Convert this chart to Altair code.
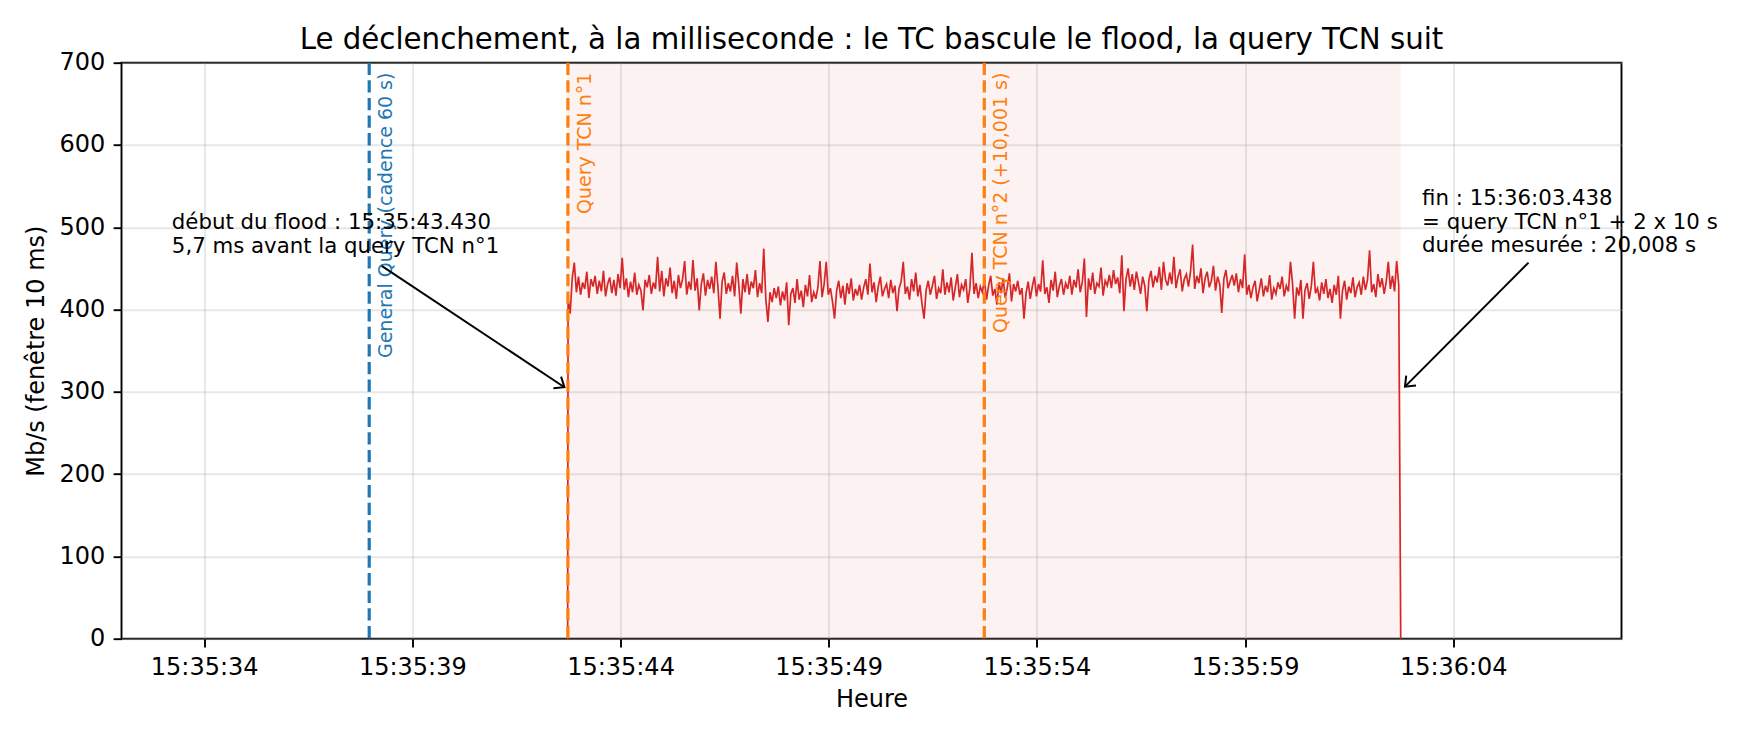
"""
Déclenchement du flood : débit par fenêtre de 10 ms autour des queries TCN.
"""

import json
import math

import altair as alt
import pandas as pd

# --- Données (temps en secondes après 15:35:00) ---
FLOOD_START = 43.430
FLOOD_END = 63.438
STEP = 0.05  # pas de lecture sur la courbe

# débit (Mb/s), une ligne = 1 s de flood
RATE = [
    412, 395, 438, 457, 421, 440, 418, 433, 425, 446, 414, 437, 428, 441, 419, 435, 422, 447, 416, 431,
    439, 420, 436, 417, 443, 426, 463, 424, 438, 415, 434, 421, 445, 418, 430, 423, 399, 436, 427, 442,
    419, 433, 425, 464, 422, 447, 416, 438, 428, 451, 420, 435, 413, 442, 426, 437, 459, 418, 434, 424,
    460, 423, 438, 399, 431, 444, 417, 436, 425, 440, 420, 458, 427, 389, 434, 445, 419, 432, 422, 441,
    416, 457, 430, 395, 437, 421, 443, 418, 434, 426, 448, 415, 432, 420, 474, 412, 385, 421, 409, 426,
    414, 428, 405, 422, 411, 433, 381, 419, 426, 408, 437, 412, 423, 403, 430, 416, 442, 409, 421, 413,
    427, 459, 415, 431, 458, 418, 426, 410, 389, 423, 435, 414, 429, 406, 432, 419, 438, 411, 425, 417,
    430, 412, 427, 437, 418, 456, 421, 433, 409, 428, 440, 416, 425, 431, 414, 436, 420, 429, 398, 426,
    434, 458, 419, 428, 412, 437, 422, 445, 416, 430, 407, 389, 424, 435, 418, 429, 441, 413, 426, 420,
    449, 418, 433, 421, 439, 411, 427, 443, 415, 430, 424, 437, 408, 426, 469, 419, 432, 414, 428, 421,
    436, 412, 429, 441, 417, 425, 406, 433, 420, 438, 414, 427, 444, 410, 431, 422, 435, 418, 426, 389,
    420, 434, 413, 428, 440, 416, 431, 422, 460, 419, 427, 408, 436, 423, 446, 415, 429, 437, 418, 432,
    425, 441, 418, 436, 427, 449, 421, 433, 462, 391, 438, 424, 445, 419, 432, 428, 451, 417, 435, 429,
    442, 426, 448, 431, 439, 420, 466, 398, 437, 450, 428, 443, 424, 446, 433, 419, 440, 429, 398, 436,
    447, 427, 441, 433, 452, 424, 458, 436, 429, 445, 431, 464, 426, 440, 449, 422, 437, 443, 428, 446,
    479, 425, 441, 432, 450, 420, 438, 446, 427, 435, 453, 423, 440, 431, 396, 437, 448, 426, 434, 442,
    429, 444, 421, 437, 426, 467, 418, 430, 414, 427, 435, 410, 424, 438, 416, 429, 421, 442, 412, 426,
    419, 433, 425, 440, 416, 429, 422, 458, 431, 389, 427, 417, 436, 389, 424, 432, 413, 428, 458, 420,
    426, 411, 433, 419, 437, 414, 425, 408, 430, 418, 441, 389, 423, 435, 412, 428, 420, 439, 415, 427,
    433, 418, 440, 424, 436, 472, 421, 431, 415, 443, 427, 438, 419, 434, 458, 425, 441, 422, 459, 430,
]

GENERAL_QUERY = 38.664
QUERY_TCN_1 = 43.436
QUERY_TCN_2 = 53.437

MARKER_X = [GENERAL_QUERY, QUERY_TCN_1, QUERY_TCN_2]
MARKER_TEXT = ["General Query (cadence 60 s)", "Query TCN n°1", "Query TCN n°2 (+10,001 s)"]
MARKER_COLOR = ["#1f77b4", "#ff7f0e", "#ff7f0e"]
MARKER_LABEL_Y = 688

ANN_TEXT = [
    "début du flood : 15:35:43.430\n5,7 ms avant la query TCN n°1",
    "fin : 15:36:03.438\n= query TCN n°1 + 2 x 10 s\ndurée mesurée : 20,008 s",
]
ANN_TEXT_X = [33.924, 63.95]
ANN_TEXT_Y = [497.5, 527]
ARROW_FROM_X = [38.962, 66.507]
ARROW_FROM_Y = [453, 457]
ARROW_TO_X = [43.353, 63.54]
ARROW_TO_Y = [305.6, 306.3]

X_TICKS = [34.70, 39.70, 44.70, 49.70, 54.70, 59.70, 64.70]
X_LABELS = ["15:35:34", "15:35:39", "15:35:44", "15:35:49", "15:35:54", "15:35:59", "15:36:04"]
Y_TICKS = [0, 100, 200, 300, 400, 500, 600, 700]
X_DOMAIN = [32.715, 68.74]
Y_DOMAIN = [0, 700]

W, H = 1500, 576
FONT = "DejaVu Sans"

# --- Tables ---
series = pd.DataFrame({
    "t": [FLOOD_START] + [FLOOD_START + 0.01 + STEP * i for i in range(len(RATE))] + [FLOOD_END],
    "rate": [0] + RATE + [0],
})
span = pd.DataFrame({"start": [FLOOD_START], "end": [FLOOD_END]})
markers = pd.DataFrame({"x": MARKER_X, "label": MARKER_TEXT, "color": MARKER_COLOR,
                        "y": [MARKER_LABEL_Y] * 3})

# angle des pointes de flèche, en pixels écran
sx = W / (X_DOMAIN[1] - X_DOMAIN[0])
sy = H / (Y_DOMAIN[1] - Y_DOMAIN[0])
angles = [
    math.degrees(math.atan2(-(y2 - y1) * sy, (x2 - x1) * sx)) % 360
    for x1, y1, x2, y2 in zip(ARROW_FROM_X, ARROW_FROM_Y, ARROW_TO_X, ARROW_TO_Y)
]
ann = pd.DataFrame({
    "text": ANN_TEXT, "tx": ANN_TEXT_X, "ty": ANN_TEXT_Y,
    "x1": ARROW_FROM_X, "y1": ARROW_FROM_Y, "x2": ARROW_TO_X, "y2": ARROW_TO_Y,
    "angle": angles,
})

x_scale = alt.Scale(domain=X_DOMAIN, nice=False, zero=False)
y_scale = alt.Scale(domain=Y_DOMAIN, nice=False)

label_expr = f"{json.dumps(X_LABELS)}[round((datum.value - {X_TICKS[0]}) / 5)]"
x_axis = alt.Axis(values=X_TICKS, labelExpr=label_expr, titlePadding=8)
y_axis = alt.Axis(values=Y_TICKS, titlePadding=10.5)
X_TITLE = "Heure"
Y_TITLE = "Mb/s (fenêtre 10 ms)"


def xq(field):
    return alt.X(field, scale=x_scale, axis=x_axis, title=X_TITLE)


def yq(field):
    return alt.Y(field, scale=y_scale, axis=y_axis, title=Y_TITLE)


shade = alt.Chart(span).mark_rect(color="#d62728", opacity=0.06).encode(
    x=xq("start:Q"),
    x2="end:Q",
)

line = alt.Chart(series).mark_line(color="#d62728", strokeWidth=1.7).encode(
    x=xq("t:Q"),
    y=yq("rate:Q"),
)

rules = alt.Chart(markers).mark_rule(strokeWidth=3.2, strokeDash=[12.3, 5.3]).encode(
    x=xq("x:Q"),
    color=alt.Color("color:N", scale=None),
)

marker_labels = alt.Chart(markers).mark_text(
    angle=270, align="right", baseline="middle", dy=17, fontSize=19, font=FONT
).encode(
    x=xq("x:Q"),
    y=yq("y:Q"),
    text="label:N",
    color=alt.Color("color:N", scale=None),
)

arrows = alt.Chart(ann).mark_rule(color="black", strokeWidth=2).encode(
    x=xq("x1:Q"),
    y=yq("y1:Q"),
    x2="x2:Q",
    y2="y2:Q",
)

heads = alt.Chart(ann).mark_point(
    shape="M -1 -0.8 L 0 0 L -1 0.8", filled=False, color="black",
    strokeWidth=2, size=300, opacity=1
).encode(
    x=xq("x2:Q"),
    y=yq("y2:Q"),
    angle=alt.Angle("angle:Q", scale=None),
)

ann_text = alt.Chart(ann).mark_text(
    align="left", baseline="alphabetic", fontSize=21.3, lineHeight=23.5,
    lineBreak="\n", font=FONT, color="black"
).encode(
    x=xq("tx:Q"),
    y=yq("ty:Q"),
    text="text:N",
)

chart = alt.layer(shade, line, rules, marker_labels, arrows, heads, ann_text).properties(
    width=W,
    height=H,
    padding={"left": 113.5, "top": 54.7, "right": 130, "bottom": 89},
    autosize=alt.AutoSizeParams(type="none"),
    title=alt.TitleParams(
        "Le déclenchement, à la milliseconde : le TC bascule le flood, la query TCN suit",
        fontSize=29.3, font=FONT, fontWeight="normal", color="black",
        frame="group", anchor="middle", baseline="alphabetic", offset=-28,
    ),
).configure(
    font=FONT,
).configure_view(
    stroke="black",
    strokeWidth=1.9,
).configure_axis(
    domain=False,
    labelFont=FONT,
    labelFontSize=24,
    labelColor="black",
    titleFont=FONT,
    titleFontSize=24,
    titleFontWeight="normal",
    titleColor="black",
    tickColor="black",
    tickWidth=1.9,
    tickSize=8.4,
    labelPadding=8.4,
    gridColor="#b0b0b0",
    gridOpacity=0.3,
    gridWidth=1.9,
)

chart.save("out.html", embed_options={"renderer": "svg", "actions": False})
